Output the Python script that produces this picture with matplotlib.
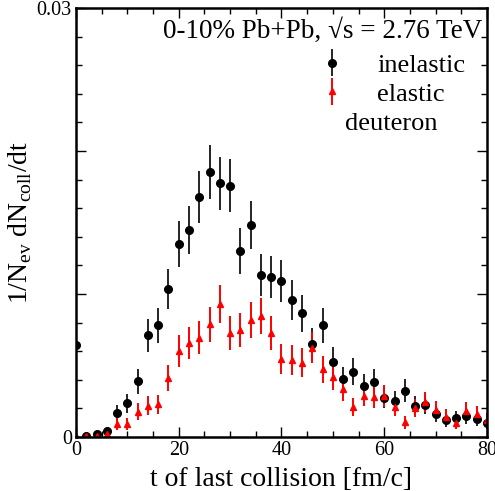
import matplotlib
matplotlib.use('Agg')
import matplotlib.pyplot as plt
from matplotlib.ticker import MultipleLocator, FixedLocator, FixedFormatter

plt.rcParams['font.family'] = ['Liberation Serif', 'DejaVu Serif']
plt.rcParams['mathtext.fontset'] = 'custom'
plt.rcParams['mathtext.rm'] = 'Liberation Serif'

## podatki (odcitano s slike)
t = [0, 2, 4, 6, 8, 10, 12, 14, 16, 18, 20, 22, 24, 26, 28, 30, 32, 34, 36, 38,
     40, 42, 44, 46, 48, 50, 52, 54, 56, 58, 60, 62, 64, 66, 68, 70, 72, 74, 76, 78, 80]

inel = [0.0064, 0.0001, 0.0002, 0.0004, 0.00166, 0.00236, 0.0039, 0.0071, 0.0078, 0.01035,
        0.0135, 0.01448, 0.01676, 0.01851, 0.01774, 0.01757, 0.01303, 0.01483, 0.01133, 0.01117,
        0.01093, 0.00958, 0.00865, 0.0065, 0.00781, 0.00527, 0.00403, 0.00457, 0.00359, 0.00387,
        0.00275, 0.00252, 0.00324, 0.00219, 0.00224, 0.00159, 0.00117, 0.00131, 0.00147, 0.00126, 0.001]
inel_err = [0.00112, 0.00014, 0.0002, 0.00028, 0.00057, 0.00068, 0.00087, 0.00118, 0.00124, 0.00142,
            0.00163, 0.00168, 0.00181, 0.0019, 0.00186, 0.00186, 0.0016, 0.0017, 0.00149, 0.00148,
            0.00146, 0.00137, 0.0013, 0.00113, 0.00124, 0.00102, 0.00089, 0.00095, 0.00084, 0.00087,
            0.00073, 0.0007, 0.0008, 0.00066, 0.00066, 0.00056, 0.00048, 0.0005, 0.00054, 0.0005, 0.00044]

el = [0.00005, 0.00005, 0.0001, 0.0002, 0.00091, 0.00091, 0.00177, 0.00219, 0.00228, 0.0041,
      0.00601, 0.00655, 0.00694, 0.00788, 0.0093, 0.00725, 0.00748, 0.00818, 0.00846, 0.00725,
      0.00545, 0.00538, 0.0052, 0.00625, 0.00473, 0.00422, 0.00336, 0.00212, 0.00289, 0.00278,
      0.00287, 0.00212, 0.00103, 0.002, 0.00247, 0.00189, 0.00142, 0.001, 0.00184, 0.00161, 0.0012]
el_err = [0.0001, 0.0001, 0.00014, 0.0002, 0.00042, 0.00042, 0.00059, 0.00066, 0.00067, 0.0009,
          0.00109, 0.00113, 0.00117, 0.00124, 0.00135, 0.00119, 0.00121, 0.00127, 0.00129, 0.00119,
          0.00103, 0.00103, 0.00101, 0.00111, 0.00096, 0.00091, 0.00081, 0.00064, 0.00075, 0.00074,
          0.00075, 0.00064, 0.00045, 0.00063, 0.0007, 0.00061, 0.00053, 0.00044, 0.0006, 0.00056, 0.00048]

fig = plt.figure(figsize=(4.95, 4.91), dpi=100)
ax = fig.add_axes([0.1535, 0.11, 0.8303, 0.8737])

h1 = ax.errorbar(t, inel, yerr=inel_err, fmt='o', color='black', ms=5.5,
                 elinewidth=1.2, capsize=0, label='inelastic')
h2 = ax.errorbar(t, el, yerr=el_err, fmt='^', color='red', ms=5,
                 elinewidth=1.4, capsize=0, label='elastic')

ax.set_xlim(0, 80)
ax.set_ylim(0, 0.03)

ax.xaxis.set_major_locator(MultipleLocator(20))
ax.xaxis.set_minor_locator(MultipleLocator(5))
ax.yaxis.set_major_locator(FixedLocator([0, 0.01, 0.02, 0.03]))
ax.yaxis.set_major_formatter(FixedFormatter(['0', '', '', '0.03']))
ax.yaxis.set_minor_locator(MultipleLocator(0.002))
ax.tick_params(which='both', direction='in', top=True, right=True, labelsize=14.5, width=1)
ax.tick_params(which='major', length=7, pad=3)
ax.tick_params(which='minor', length=4)
for s in ax.spines.values():
    s.set_linewidth(1.8)

ax.set_xlabel('t of last collision [fm/c]', fontsize=20, labelpad=5)
ax.set_ylabel(r'1/N$_{\rm ev}$ dN$_{\rm coll}$/dt', fontsize=20, labelpad=2)

ax.text(0.212, 0.930, '0-10% Pb+Pb, \u221as = 2.76 TeV', transform=ax.transAxes,
        fontsize=19.5, va='baseline', ha='left')
ax.legend(handles=[h1, h2], loc='upper left', bbox_to_anchor=(0.559, 0.925),
          frameon=False, fontsize=19, handlelength=1.0, handletextpad=1.2,
          labelspacing=0.2, borderpad=0)
ax.text(0.654, 0.7156, 'deuteron', transform=ax.transAxes, fontsize=19, va='baseline')

plt.savefig('out.png', dpi=100)
